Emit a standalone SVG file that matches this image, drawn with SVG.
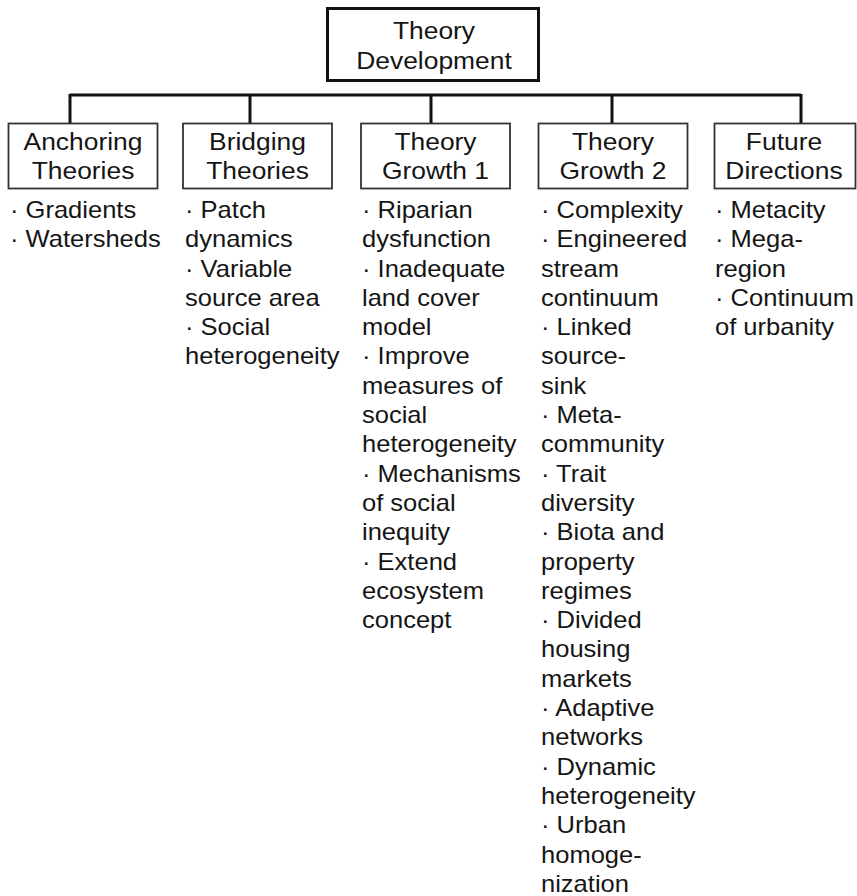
<svg xmlns="http://www.w3.org/2000/svg" width="857" height="896" viewBox="0 0 857 896">
<style>
.bg{fill:#ffffff}
.top{fill:#fff;stroke:#111;stroke-width:3}
.box{fill:#fff;stroke:#333;stroke-width:1.8}
.conn{fill:none;stroke:#111;stroke-width:3}
text{font-family:"Liberation Sans",Arial,sans-serif;fill:#151515}
.h{font-size:24px;text-anchor:middle}
.li{font-size:23px}
</style>
<rect class="bg" x="0" y="0" width="857" height="896"/>
<g id="connectors">
<path class="conn" d="M70 95 H801 M70 94 V124 M250 94 V124 M431 94 V124 M612 94 V124 M801 94 V124"/>
</g>
<g id="theory-development">
<rect class="top" x="327.5" y="8.5" width="211" height="72"/>
<text class="h" transform="translate(434,0) scale(1.1,1)"><tspan x="0" y="39">Theory</tspan><tspan x="0" y="69">Development</tspan></text>
</g>
<g id="anchoring">
<rect class="box" x="8.5" y="123.5" width="149" height="65"/>
<text class="h" transform="translate(83,0) scale(1.1,1)"><tspan x="0" y="150">Anchoring</tspan><tspan x="0" y="179">Theories</tspan></text>
<text class="li" transform="translate(10,0) scale(1.11,1)"><tspan x="0" y="218">· Gradients</tspan><tspan x="0" y="247.3">· Watersheds</tspan></text>
</g>
<g id="bridging">
<rect class="box" x="183" y="123.5" width="149" height="65"/>
<text class="h" transform="translate(257.5,0) scale(1.1,1)"><tspan x="0" y="150">Bridging</tspan><tspan x="0" y="179">Theories</tspan></text>
<text class="li" transform="translate(185,0) scale(1.11,1)"><tspan x="0" y="218">· Patch</tspan><tspan x="0" y="247.3">dynamics</tspan><tspan x="0" y="276.6">· Variable</tspan><tspan x="0" y="305.9">source area</tspan><tspan x="0" y="335.2">· Social</tspan><tspan x="0" y="364.5">heterogeneity</tspan></text>
</g>
<g id="growth1">
<rect class="box" x="361" y="123.5" width="149" height="65"/>
<text class="h" transform="translate(435.5,0) scale(1.1,1)"><tspan x="0" y="150">Theory</tspan><tspan x="0" y="179">Growth 1</tspan></text>
<text class="li" transform="translate(362,0) scale(1.11,1)"><tspan x="0" y="218">· Riparian</tspan><tspan x="0" y="247.3">dysfunction</tspan><tspan x="0" y="276.6">· Inadequate</tspan><tspan x="0" y="305.9">land cover</tspan><tspan x="0" y="335.2">model</tspan><tspan x="0" y="364.5">· Improve</tspan><tspan x="0" y="393.8">measures of</tspan><tspan x="0" y="423.1">social</tspan><tspan x="0" y="452.4">heterogeneity</tspan><tspan x="0" y="481.7">· Mechanisms</tspan><tspan x="0" y="511">of social</tspan><tspan x="0" y="540.3">inequity</tspan><tspan x="0" y="569.6">· Extend</tspan><tspan x="0" y="598.9">ecosystem</tspan><tspan x="0" y="628.2">concept</tspan></text>
</g>
<g id="growth2">
<rect class="box" x="538.5" y="123.5" width="149" height="65"/>
<text class="h" transform="translate(613,0) scale(1.1,1)"><tspan x="0" y="150">Theory</tspan><tspan x="0" y="179">Growth 2</tspan></text>
<text class="li" transform="translate(541,0) scale(1.11,1)"><tspan x="0" y="218">· Complexity</tspan><tspan x="0" y="247.3">· Engineered</tspan><tspan x="0" y="276.6">stream</tspan><tspan x="0" y="305.9">continuum</tspan><tspan x="0" y="335.2">· Linked</tspan><tspan x="0" y="364.5">source-</tspan><tspan x="0" y="393.8">sink</tspan><tspan x="0" y="423.1">· Meta-</tspan><tspan x="0" y="452.4">community</tspan><tspan x="0" y="481.7">· Trait</tspan><tspan x="0" y="511">diversity</tspan><tspan x="0" y="540.3">· Biota and</tspan><tspan x="0" y="569.6">property</tspan><tspan x="0" y="598.9">regimes</tspan><tspan x="0" y="628.2">· Divided</tspan><tspan x="0" y="657.5">housing</tspan><tspan x="0" y="686.8">markets</tspan><tspan x="0" y="716.1">· Adaptive</tspan><tspan x="0" y="745.4">networks</tspan><tspan x="0" y="774.7">· Dynamic</tspan><tspan x="0" y="804">heterogeneity</tspan><tspan x="0" y="833.3">· Urban</tspan><tspan x="0" y="862.6">homoge-</tspan><tspan x="0" y="891.9">nization</tspan></text>
</g>
<g id="future">
<rect class="box" x="714.5" y="123.5" width="141" height="65"/>
<text class="h" transform="translate(784,0) scale(1.1,1)"><tspan x="0" y="150">Future</tspan><tspan x="0" y="179">Directions</tspan></text>
<text class="li" transform="translate(715,0) scale(1.11,1)"><tspan x="0" y="218">· Metacity</tspan><tspan x="0" y="247.3">· Mega-</tspan><tspan x="0" y="276.6">region</tspan><tspan x="0" y="305.9">· Continuum</tspan><tspan x="0" y="335.2">of urbanity</tspan></text>
</g>
</svg>
